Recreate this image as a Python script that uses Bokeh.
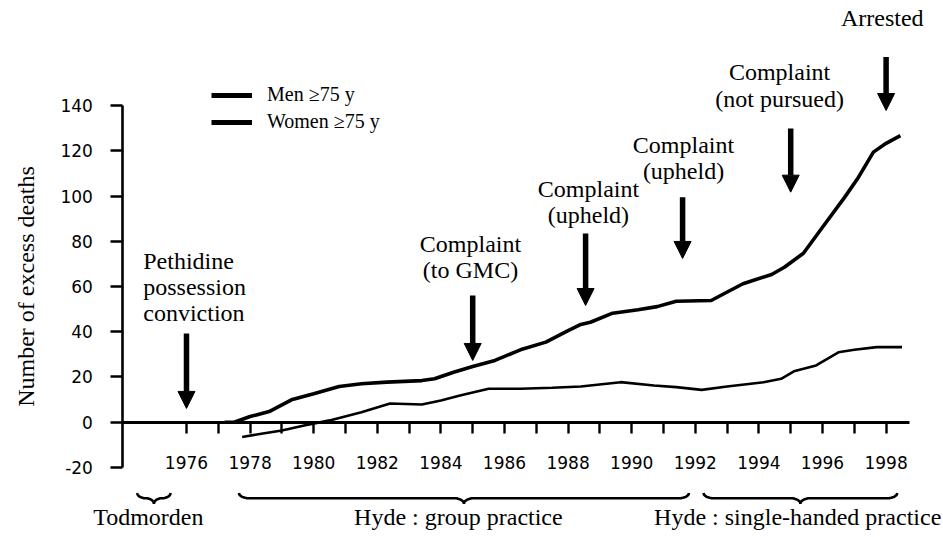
import math
from bokeh.plotting import figure
from bokeh.models import (ColumnDataSource, FixedTicker, Arrow, NormalHead, Legend,
                          LegendItem, LabelSet, Range1d)
from bokeh.core.properties import value
from bokeh.embed import file_html
from bokeh.resources import INLINE

# ---------------- data ----------------
men_year = [1977.2, 1977.5, 1978.0, 1978.6, 1979.3, 1980.0, 1980.8, 1981.5, 1982.3,
            1983.4, 1983.8, 1984.4, 1985.0, 1985.7, 1986.5, 1987.3, 1988.0, 1988.4,
            1988.7, 1989.4, 1990.2, 1990.8, 1991.4, 1992.5, 1992.9, 1993.5, 1994.4,
            1994.8, 1995.4, 1996.0, 1996.7, 1997.1, 1997.6, 1998.0, 1998.45]
men_excess = [0, 0, 2.5, 4.7, 9.9, 12.6, 15.8, 17.0, 17.7,
              18.4, 19.2, 22.1, 24.6, 27.3, 32.0, 35.4, 40.5, 43.2,
              44.2, 48.2, 49.7, 51.1, 53.5, 53.8, 56.8, 61.2, 65.3,
              68.5, 74.7, 86.2, 99.5, 107.6, 119.4, 123.3, 126.7]

women_year = [1977.75, 1978.4, 1979.0, 1979.7, 1980.5, 1981.5, 1982.4, 1983.4, 1984.0,
              1984.6, 1985.5, 1986.5, 1987.5, 1988.4, 1989.65, 1990.7, 1991.4, 1992.2,
              1993.0, 1994.15, 1994.7, 1995.1, 1995.8, 1996.5, 1997.0, 1997.7, 1998.5]
women_excess = [-6.5, -5.0, -3.7, -1.5, 0.8, 4.4, 8.3, 7.8, 9.6,
                11.8, 14.8, 14.8, 15.2, 15.8, 17.7, 16.2, 15.5, 14.3,
                15.8, 17.7, 19.2, 22.5, 25.1, 30.9, 32.0, 33.2, 33.2]

series_labels = ["Men \u226575 y", "Women \u226575 y"]

event_year = [1976.0, 1985.0, 1988.55, 1991.6, 1995.0, 1998.0]
event_label = ["Pethidine\npossession\nconviction", "Complaint\n(to GMC)",
               "Complaint\n(upheld)", "Complaint\n(upheld)",
               "Complaint\n(not pursued)", "Arrested"]

period_label = ["Todmorden", "Hyde : group practice", "Hyde : single-handed practice"]
period_start = [1974.45, 1977.65, 1992.26]
period_end = [1975.5, 1991.8, 1998.35]

y_ticks = [-20, 0, 20, 40, 60, 80, 100, 120, 140]
y_tick_labels = {t: str(t) for t in y_ticks}   # plain hyphen for "-20"
x_major = [1976, 1978, 1980, 1982, 1984, 1986, 1988, 1990, 1992, 1994, 1996, 1998]
x_minor = [1977, 1979, 1981, 1983, 1985, 1987, 1989, 1991, 1993, 1995, 1997]

# ---------------- layout (positions, not data) ----------------
arrow_top = [39.2, 56.0, 83.4, 99.5, 129.8, 161.4]
arrow_tip = [6.1, 27.3, 51.6, 72.4, 101.7, 137.8]
label_x = [1974.64, 1984.93, 1988.64, 1991.63, 1994.65, 1997.88]
label_last_y = [48.4, 67.1, 91.7, 111.2, 143.1, 178.6]
label_align = ["left", "center", "center", "center", "center", "center"]
line_step = 11.5          # vertical distance between text lines (data units)

period_text_x = [1974.8, 1984.55, 1995.22]
period_text_y = -41.7
brace_end_y, brace_line_y, brace_tip_y = -31.3, -33.6, -36.1

SERIF = "Liberation Serif"
SANS = "DejaVu Sans"

p = figure(width=943, height=537, output_backend="svg", toolbar_location=None,
           x_range=Range1d(1970.151, 1999.805), y_range=Range1d(-50.97, 186.43),
           min_border_left=0, min_border_right=0, min_border_top=0, min_border_bottom=0,
           background_fill_color="white", border_fill_color="white")
p.outline_line_color = None
p.xgrid.visible = False
p.ygrid.visible = False

# ---- axes ----
ya = p.yaxis[0]
ya.fixed_location = 1974
ya.ticker = FixedTicker(ticks=y_ticks)
ya.major_label_overrides = y_tick_labels
ya.bounds = (-20, 140)
ya.axis_line_width = 2.6
ya.axis_line_color = "black"
ya.major_tick_line_width = 2.4
ya.major_tick_out = 12
ya.major_tick_in = 0
ya.minor_tick_line_color = None
ya.major_label_text_font = SANS
ya.major_label_text_font_size = "17px"
ya.major_label_text_color = "black"
ya.major_label_standoff = 18
ya.axis_label = "Number of excess deaths"
ya.axis_label_text_font = SERIF
ya.axis_label_text_font_size = "24px"
ya.axis_label_text_font_style = "normal"
ya.axis_label_text_color = "black"
ya.axis_label_standoff = 18

xa = p.xaxis[0]
xa.fixed_location = 0
xa.ticker = FixedTicker(ticks=x_major, minor_ticks=x_minor)
xa.bounds = (1974, 1998.75)
xa.axis_line_width = 2.8
xa.axis_line_color = "black"
xa.major_tick_line_width = 2.4
xa.minor_tick_line_width = 2.4
xa.major_tick_out = 11
xa.major_tick_in = 0
xa.minor_tick_out = 11
xa.minor_tick_in = 0
xa.major_label_text_font = SANS
xa.major_label_text_font_size = "17px"
xa.major_label_text_color = "black"
xa.major_label_standoff = 23

# ---- series ----
p.line(men_year, men_excess, line_width=3.6, line_color="black")
p.line(women_year, women_excess, line_width=2.6, line_color="black")

# ---- legend (thick legend keys, like the reference) ----
nan = float("nan")
leg_m = p.line(x=[nan, nan], y=[nan, nan], line_width=5, line_color="black")
leg_w = p.line(x=[nan, nan], y=[nan, nan], line_width=5, line_color="black")
legend = Legend(items=[LegendItem(label=series_labels[0], renderers=[leg_m]),
                       LegendItem(label=series_labels[1], renderers=[leg_w])],
                location=(211, 404), padding=0, margin=0, spacing=4,
                glyph_width=41, glyph_height=20, label_height=20, label_standoff=15,
                label_text_font=SERIF, label_text_font_size="20px",
                label_text_color="black",
                border_line_color=None, background_fill_alpha=0)
p.add_layout(legend)

# ---- event arrows ----
arr_src = ColumnDataSource(dict(x=event_year, top=arrow_top, tip=arrow_tip))
p.add_layout(Arrow(end=NormalHead(size=17, fill_color="black", line_color="black", line_width=1),
                   x_start="x", y_start="top", x_end="x", y_end="tip", source=arr_src,
                   line_width=5.5, line_color="black"))

# ---- event labels (one row per text line) ----
lx, ly, lt, la = [], [], [], []
for i, lab in enumerate(event_label):
    lines = lab.split("\n")
    n = len(lines)
    for k, t in enumerate(lines):
        lx.append(label_x[i])
        ly.append(label_last_y[i] + (n - 1 - k) * line_step)
        lt.append(t)
        la.append(label_align[i])
lab_src = ColumnDataSource(dict(x=lx, y=ly, text=lt, align=la))
p.add_layout(LabelSet(x="x", y="y", text="text", source=lab_src, text_align="align",
                      text_baseline="middle", text_font=value(SERIF),
                      text_font_size=value("24px"), text_color="black"))

# ---- period braces ----
def brace(a, b, d, n=8):
    m = (a + b) / 2
    xs, ys = [], []
    th = [k / n * math.pi / 2 for k in range(n + 1)]
    for t in th:
        xs.append(a + d * (1 - math.cos(t)))
        ys.append(brace_end_y - (brace_end_y - brace_line_y) * math.sin(t))
    for t in th:
        xs.append(m - d + d * math.sin(t))
        ys.append(brace_line_y - (brace_line_y - brace_tip_y) * (1 - math.cos(t)))
    for t in reversed(th):
        xs.append(m + d - d * math.sin(t))
        ys.append(brace_line_y - (brace_line_y - brace_tip_y) * (1 - math.cos(t)))
    for t in reversed(th):
        xs.append(b - d * (1 - math.cos(t)))
        ys.append(brace_end_y - (brace_end_y - brace_line_y) * math.sin(t))
    return xs, ys

bxs, bys = [], []
for a, b in zip(period_start, period_end):
    xs, ys = brace(a, b, min(0.31, (b - a) / 4))
    bxs.append(xs)
    bys.append(ys)
p.multi_line(bxs, bys, line_width=2.6, line_color="black")

per_src = ColumnDataSource(dict(x=period_text_x, y=[period_text_y] * len(period_label),
                                text=period_label))
p.add_layout(LabelSet(x="x", y="y", text="text", source=per_src, text_align="center",
                      text_baseline="middle", text_font=value(SERIF),
                      text_font_size=value("24px"), text_color="black"))

open("out.html", "w").write(file_html(p, INLINE))
